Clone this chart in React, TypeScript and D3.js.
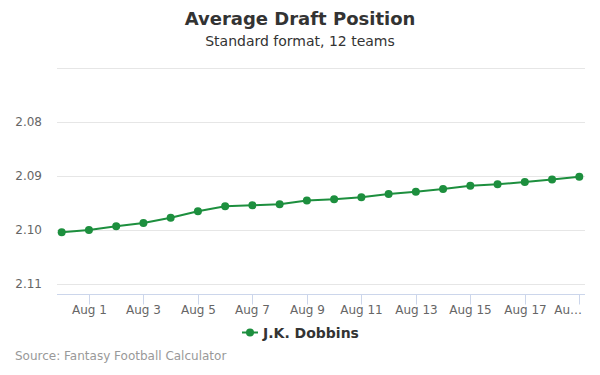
import React from "react";
import * as d3 from "d3";

const dates: string[] = [
  "2021-07-31", "2021-08-01", "2021-08-02", "2021-08-03", "2021-08-04",
  "2021-08-05", "2021-08-06", "2021-08-07", "2021-08-08", "2021-08-09",
  "2021-08-10", "2021-08-11", "2021-08-12", "2021-08-13", "2021-08-14",
  "2021-08-15", "2021-08-16", "2021-08-17", "2021-08-18", "2021-08-19",
];
const adp: number[] = [
  2.1004, 2.1000, 2.0993, 2.0987, 2.0977, 2.0965, 2.0956, 2.0954, 2.0952, 2.0945,
  2.0943, 2.0939, 2.0933, 2.0929, 2.0924, 2.0918, 2.0915, 2.0911, 2.0906, 2.0901,
];
const yTicks: number[] = [2.07, 2.08, 2.09, 2.1, 2.11];
const yTickLabels: string[] = ["", "2.08", "2.09", "2.10", "2.11"];
const xTickDates: string[] = [
  "2021-08-01", "2021-08-03", "2021-08-05", "2021-08-07", "2021-08-09",
  "2021-08-11", "2021-08-13", "2021-08-15", "2021-08-17", "2021-08-19",
];
const xTickLabels: string[] = [
  "Aug 1", "Aug 3", "Aug 5", "Aug 7", "Aug 9", "Aug 11", "Aug 13", "Aug 15", "Aug 17", "Au…",
];
const seriesName = "J.K. Dobbins";
const title = "Average Draft Position";
const subtitle = "Standard format, 12 teams";
const credit = "Source: Fantasy Football Calculator";

const FONT = "'DejaVu Sans', sans-serif";
const GREEN = "#1d8f3e";

export default function App() {
  const W = 600, H = 375;
  const plotLeft = 57, plotRight = 585, plotBottom = 294.5;
  const parse = d3.utcParse("%Y-%m-%d");
  const pts = dates.map((d, i) => ({ date: parse(d) as Date, v: adp[i] }));
  const x = d3
    .scaleUtc()
    .domain([pts[0].date, pts[pts.length - 1].date])
    .range([61.7, 579.3]);
  const y = d3.scaleLinear().domain([2.07, 2.11]).range([68.3, 284]);
  const line = d3
    .line<{ date: Date; v: number }>()
    .x((d) => x(d.date))
    .y((d) => y(d.v));

  return (
    <svg width={W} height={H} style={{ display: "block", position: "absolute", left: 0, top: 0 }} fontFamily={FONT}>
      <rect x={0} y={0} width={W} height={H} fill="#fff" />
      <text x={300} y={25} textAnchor="middle" fontSize={18} fontWeight="bold" fill="#333">
        {title}
      </text>
      <text x={300} y={46} textAnchor="middle" fontSize={14} fill="#333">
        {subtitle}
      </text>
      {yTicks.map((t, i) => (
        <g key={t}>
          <line x1={plotLeft} x2={plotRight} y1={Math.round(y(t)) + 0.5} y2={Math.round(y(t)) + 0.5} stroke="#e6e6e6" strokeWidth={1} />
          {yTickLabels[i] && (
            <text x={42} y={y(t) + 4} textAnchor="end" fontSize={12} fill="#666">
              {yTickLabels[i]}
            </text>
          )}
        </g>
      ))}
      <line x1={plotLeft} x2={plotRight} y1={plotBottom} y2={plotBottom} stroke="#ccd6eb" strokeWidth={1} />
      {xTickDates.map((d, i) => {
        const xx = Math.round(x(parse(d) as Date)) + 0.5;
        const last = i === xTickDates.length - 1;
        return (
          <g key={d}>
            <line x1={xx} x2={xx} y1={plotBottom} y2={plotBottom + 10} stroke="#ccd6eb" strokeWidth={1} />
            <text
              x={last ? 582 : xx}
              y={314}
              textAnchor={last ? "end" : "middle"}
              fontSize={12}
              fill="#666"
            >
              {xTickLabels[i]}
            </text>
          </g>
        );
      })}
      <path d={line(pts) || ""} fill="none" stroke={GREEN} strokeWidth={2} strokeLinejoin="round" strokeLinecap="round" />
      {pts.map((p, i) => (
        <circle key={i} cx={x(p.date)} cy={y(p.v)} r={4} fill={GREEN} />
      ))}
      <g>
        <line x1={242} x2={258} y1={332.5} y2={332.5} stroke={GREEN} strokeWidth={2} />
        <circle cx={250} cy={332.5} r={4} fill={GREEN} />
        <text x={263} y={337.5} fontSize={14} fontWeight="bold" fill="#333">
          {seriesName}
        </text>
      </g>
      <text x={15} y={360} fontSize={12} fill="#999">
        {credit}
      </text>
    </svg>
  );
}
